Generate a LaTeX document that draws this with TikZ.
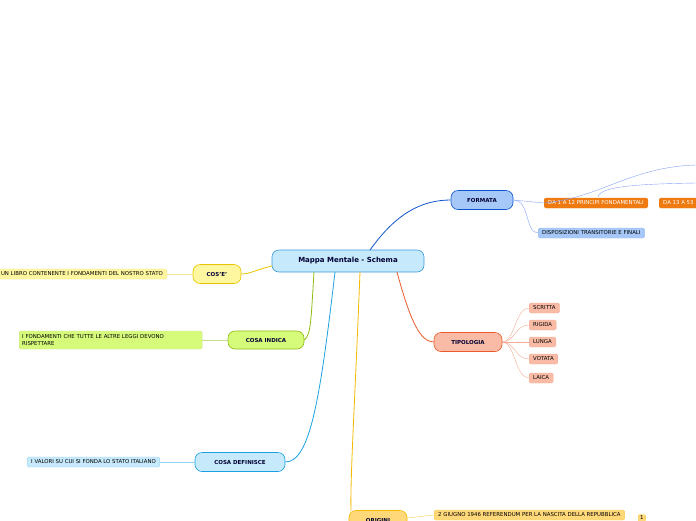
\documentclass[tikz,border=0pt]{standalone}
\usepackage{fontspec}
\setmainfont{DejaVu Sans}
\definecolor{mainf}{HTML}{C6E9FB}\definecolor{maind}{HTML}{3A9BD9}
\definecolor{bluef}{HTML}{A6C8F8}\definecolor{blued}{HTML}{1155CC}
\definecolor{orf}{HTML}{F9BBA5}\definecolor{ord}{HTML}{EA5A2A}
\definecolor{orange2}{HTML}{EE7A10}
\definecolor{yelf}{HTML}{FFF7A0}\definecolor{yeld}{HTML}{E8C400}
\definecolor{grf}{HTML}{D6FB7B}\definecolor{grd}{HTML}{8FBD12}
\definecolor{cyd}{HTML}{1BA1E2}
\definecolor{gof}{HTML}{FFD87A}\definecolor{god}{HTML}{F5B800}
\tikzset{
  topic/.style={shape=rectangle,rounded corners=7pt,draw=#1,line width=0.6pt,font=\fontsize{5.5}{6}\selectfont\bfseries,text=black!80!blue,minimum height=19pt,inner xsep=9pt},
  leaf/.style={shape=rectangle,rounded corners=1.5pt,draw=#1,line width=0.4pt,font=\fontsize{5.4}{6.5}\selectfont,minimum height=10pt,inner xsep=4pt,inner ysep=1.5pt,anchor=west},
  link/.style={line width=0.8pt},
  twig/.style={line width=0.4pt}
}
\begin{document}
\begin{tikzpicture}[x=1pt,y=-1pt]
\useasboundingbox (0,0) rectangle (696,520);
% centre
\node[topic=maind,fill=mainf,minimum width=152pt,minimum height=22pt,font=\fontsize{7}{8}\selectfont\bfseries] (main) at (348,261) {Mappa Mentale - Schema};

% formata
\node[topic=blued,fill=bluef,minimum width=62pt] (formata) at (482,200) {FORMATA};
\node[leaf=orange2,fill=orange2,text=white] (art1) at (544,203) {DA 1 A 12 PRINCIPI FONDAMENTALI};
\node[leaf=orange2,fill=orange2,text=white] (art13) at (659,203) {DA 13 A 53};
\node[leaf=blued!40,fill=bluef] (disp) at (538,233) {DISPOSIZIONI TRANSITORIE E FINALI};
\coordinate (up1) at (696,165);
\coordinate (up2) at (696,183);
\draw[link,blued] (370,250) .. controls (395,215) and (420,200) .. (formata.west);
\draw[twig,bluef!80!blue] (formata.east) -- (art1.west);
\draw[twig,bluef!80!blue] (formata.east) .. controls (530,200) and (525,233) .. (disp.west);
\draw[twig,bluef!80!blue] (art1.west) .. controls (600,198) and (630,167) .. (up1);
\draw[twig,bluef!80!blue] (598,197) .. controls (600,186) and (640,184) .. (up2);

% tipologia
\node[topic=ord,fill=orf,minimum width=68pt] (tipo) at (468,342) {TIPOLOGIA};
\draw[link,ord] (397,272) .. controls (410,320) and (420,342) .. (tipo.west);
\foreach \name/\txt/\y in {t1/SCRITTA/308,t2/RIGIDA/325,t3/LUNGA/342,t4/VOTATA/359,t5/LAICA/378}{
  \node[leaf=ord!50,fill=orf] (\name) at (529,\y) {\txt};
  \draw[twig,ord!50] (tipo.east) .. controls (515,342) and (515,\y) .. (\name.west);
}

% cos'e'
\node[topic=yeld,fill=yelf,minimum width=48pt] (cose) at (217,274) {COS'E'};
\node[leaf=yeld!50,fill=yelf,anchor=east] (libro) at (167,274) {UN LIBRO CONTENENTE I FONDAMENTI DEL NOSTRO STATO};
\draw[link,yeld] (272,266) .. controls (255,270) and (250,274) .. (cose.east);
\draw[twig,yeld!40] (cose.west) -- (libro.east);

% cosa indica
\node[topic=grd,fill=grf,minimum height=18pt,minimum width=76pt] (indica) at (266,340) {COSA INDICA};
\node[leaf=grd!50,fill=grf,minimum height=18pt,inner xsep=3pt,align=left,text width=177pt] (fond) at (19,340) {I FONDAMENTI CHE TUTTE LE ALTRE LEGGI DEVONO\\RISPETTARE};
\draw[link,grd] (314,272) .. controls (311,320) and (311,335) .. (indica.east);
\draw[twig,grd!50] (indica.west) -- (fond.east);

% cosa definisce
\node[topic=cyd,fill=mainf,minimum width=90pt] (definisce) at (240,462) {COSA DEFINISCE};
\node[leaf=cyd!50,fill=mainf] (valori) at (27,462) {I VALORI SU CUI SI FONDA LO STATO ITALIANO};
\draw[link,cyd] (335,272) .. controls (320,400) and (310,462) .. (definisce.east);
\draw[twig,cyd!50] (definisce.west) -- (valori.east);

% origini
\node[topic=god,fill=gof,minimum width=58pt] (origini) at (378,520) {ORIGINI};
\node[leaf=god!70,fill=gof] (giugno) at (434,515) {2 GIUGNO 1946 REFERENDUM PER LA NASCITA DELLA REPUBBLICA};
\node[leaf=god!70,fill=gof,minimum height=7pt,inner xsep=2pt] (nota) at (638,518) {1};
\draw[link,god] (360,272) .. controls (355,400) and (350,480) .. (351,511);
\draw[twig,god!70] (origini.east) ++(0,-2) -- (giugno.west);
\end{tikzpicture}
\end{document}
